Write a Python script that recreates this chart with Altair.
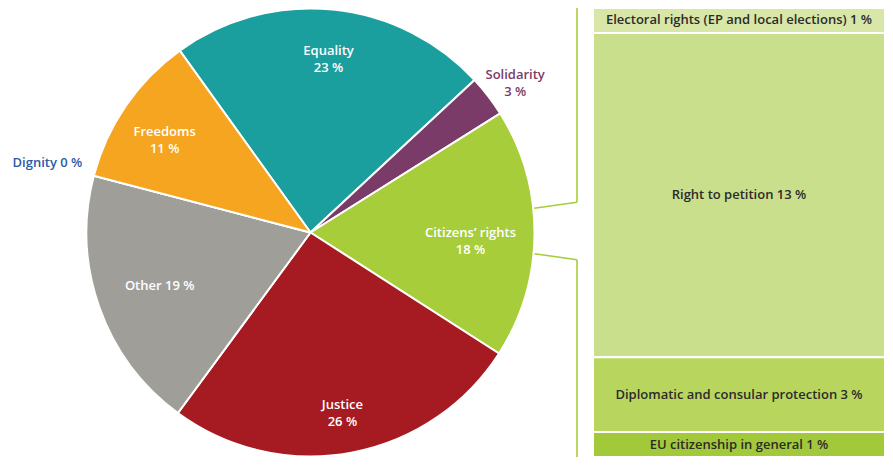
import math
import altair as alt
import pandas as pd

# ---- data ----
categories = ["Equality", "Solidarity", "Citizens’ rights", "Justice", "Other", "Dignity", "Freedoms"]
shares = [23, 3, 18, 26, 19, 0, 11]
pie_labels = ["Equality\n23 %", "Solidarity\n3 %", "Citizens’ rights\n18 %", "Justice\n26 %",
              "Other 19 %", "Dignity 0 %", "Freedoms\n11 %"]

sub_categories = ["Electoral rights (EP and local elections)", "Right to petition",
                  "Diplomatic and consular protection", "EU citizenship in general"]
sub_shares = [1, 13, 3, 1]

# ---- styles / layout ----
slice_colors = ["#1b9e9e", "#7a3b69", "#a8cd3a", "#a51b21", "#a09e99", "#2e5da8", "#f5a51f"]
label_colors = ["#ffffff", "#7a3b69", "#ffffff", "#ffffff", "#ffffff", "#2a5aa6", "#ffffff"]
label_radius = [182, 258, 160, 175, 160, 272, 177]
sub_colors = ["#d8e6a8", "#c9df8c", "#b8d65e", "#a2c93a"]

W, H = 877, 449
CX, CY, R = 302.5, 224.5, 224
START = math.radians(-35.7)
FONT = "Open Sans"
FS = 13
FW = 600
LINE_COLOR = "#a8cd3a"
BAR_X0, BAR_X1 = 585, 877
VLINE_X = 569

# cumulative positions computed from the shares
p_start, acc = [], 0
for s in shares:
    p_start.append(acc)
    acc += s
pie_df = pd.DataFrame({
    "category": categories, "share": shares, "label": pie_labels,
    "start": p_start, "end": [a + b for a, b in zip(p_start, shares)],
    "color": slice_colors, "lab_color": label_colors, "lab_r": label_radius,
})
pie_df["mid"] = (pie_df["start"] + pie_df["end"]) / 2

theta_scale = alt.Scale(domain=[0, 100], range=[START, START + 2 * math.pi])

pie = alt.Chart(pie_df).mark_arc(outerRadius=R, stroke="white", strokeWidth=2).encode(
    theta=alt.Theta("start:Q", stack=None, scale=theta_scale),
    theta2="end:Q",
    color=alt.Color("color:N", scale=None),
    x=alt.value(CX), y=alt.value(CY),
)

pie_text = alt.Chart(pie_df).mark_text(
    lineBreak="\n", font=FONT, fontSize=FS, fontWeight=FW, lineHeight=17, baseline="middle"
).encode(
    theta=alt.Theta("mid:Q", stack=None, scale=theta_scale),
    radius=alt.Radius("lab_r:Q", scale=None),
    text="label:N",
    color=alt.Color("lab_color:N", scale=None),
    x=alt.value(CX), y=alt.value(CY),
)

# stacked breakdown bar
starts, acc = [], 0
for s in sub_shares:
    starts.append(acc)
    acc += s
sub_df = pd.DataFrame({
    "name": sub_categories, "share": sub_shares,
    "start": starts, "end": [a + b for a, b in zip(starts, sub_shares)],
    "label": [f"{n} {v} %" for n, v in zip(sub_categories, sub_shares)],
    "color": sub_colors,
})
sub_df["mid"] = (sub_df["start"] + sub_df["end"]) / 2

y_scale = alt.Scale(domain=[0, sum(sub_shares)], range=[0, H])

bars = alt.Chart(sub_df).mark_bar(stroke="white", strokeWidth=2).encode(
    y=alt.Y("start:Q", scale=y_scale, axis=None),
    y2="end:Q",
    x=alt.value(BAR_X0), x2=alt.value(BAR_X1),
    color=alt.Color("color:N", scale=None),
)

bar_text = alt.Chart(sub_df).mark_text(
    font=FONT, fontSize=FS, fontWeight=FW, color="#2b2b2b", baseline="middle"
).encode(
    y=alt.Y("mid:Q", scale=y_scale, axis=None),
    x=alt.value((BAR_X0 + BAR_X1) / 2),
    text="label:N",
)

# connector bracket
a_up, a_lo = math.radians(83.8), math.radians(95.4)
p_up = (CX + (R + 1) * math.sin(a_up), CY - (R + 1) * math.cos(a_up))
p_lo = (CX + (R + 1) * math.sin(a_lo), CY - (R + 1) * math.cos(a_lo))
join_up, join_lo = 194.3, 251.8
seg_df = pd.DataFrame({
    "x": [VLINE_X, p_up[0], p_lo[0], VLINE_X],
    "y": [0, p_up[1], p_lo[1], join_lo],
    "x2": [VLINE_X, VLINE_X, VLINE_X, VLINE_X],
    "y2": [join_up, join_up, join_lo, H],
})
connectors = alt.Chart(seg_df).mark_rule(color=LINE_COLOR, strokeWidth=1.6).encode(
    x=alt.X("x:Q", scale=None), x2="x2:Q",
    y=alt.Y("y:Q", scale=None), y2="y2:Q",
)

chart = alt.layer(pie, pie_text, connectors, bars, bar_text).resolve_scale(
    y="independent"
).properties(
    width=W, height=H, padding=0, autosize=alt.AutoSizeParams(type="none"),
    background="white",
).configure_view(stroke=None)

chart.save("out.html", embed_options={"renderer": "svg", "actions": False})
